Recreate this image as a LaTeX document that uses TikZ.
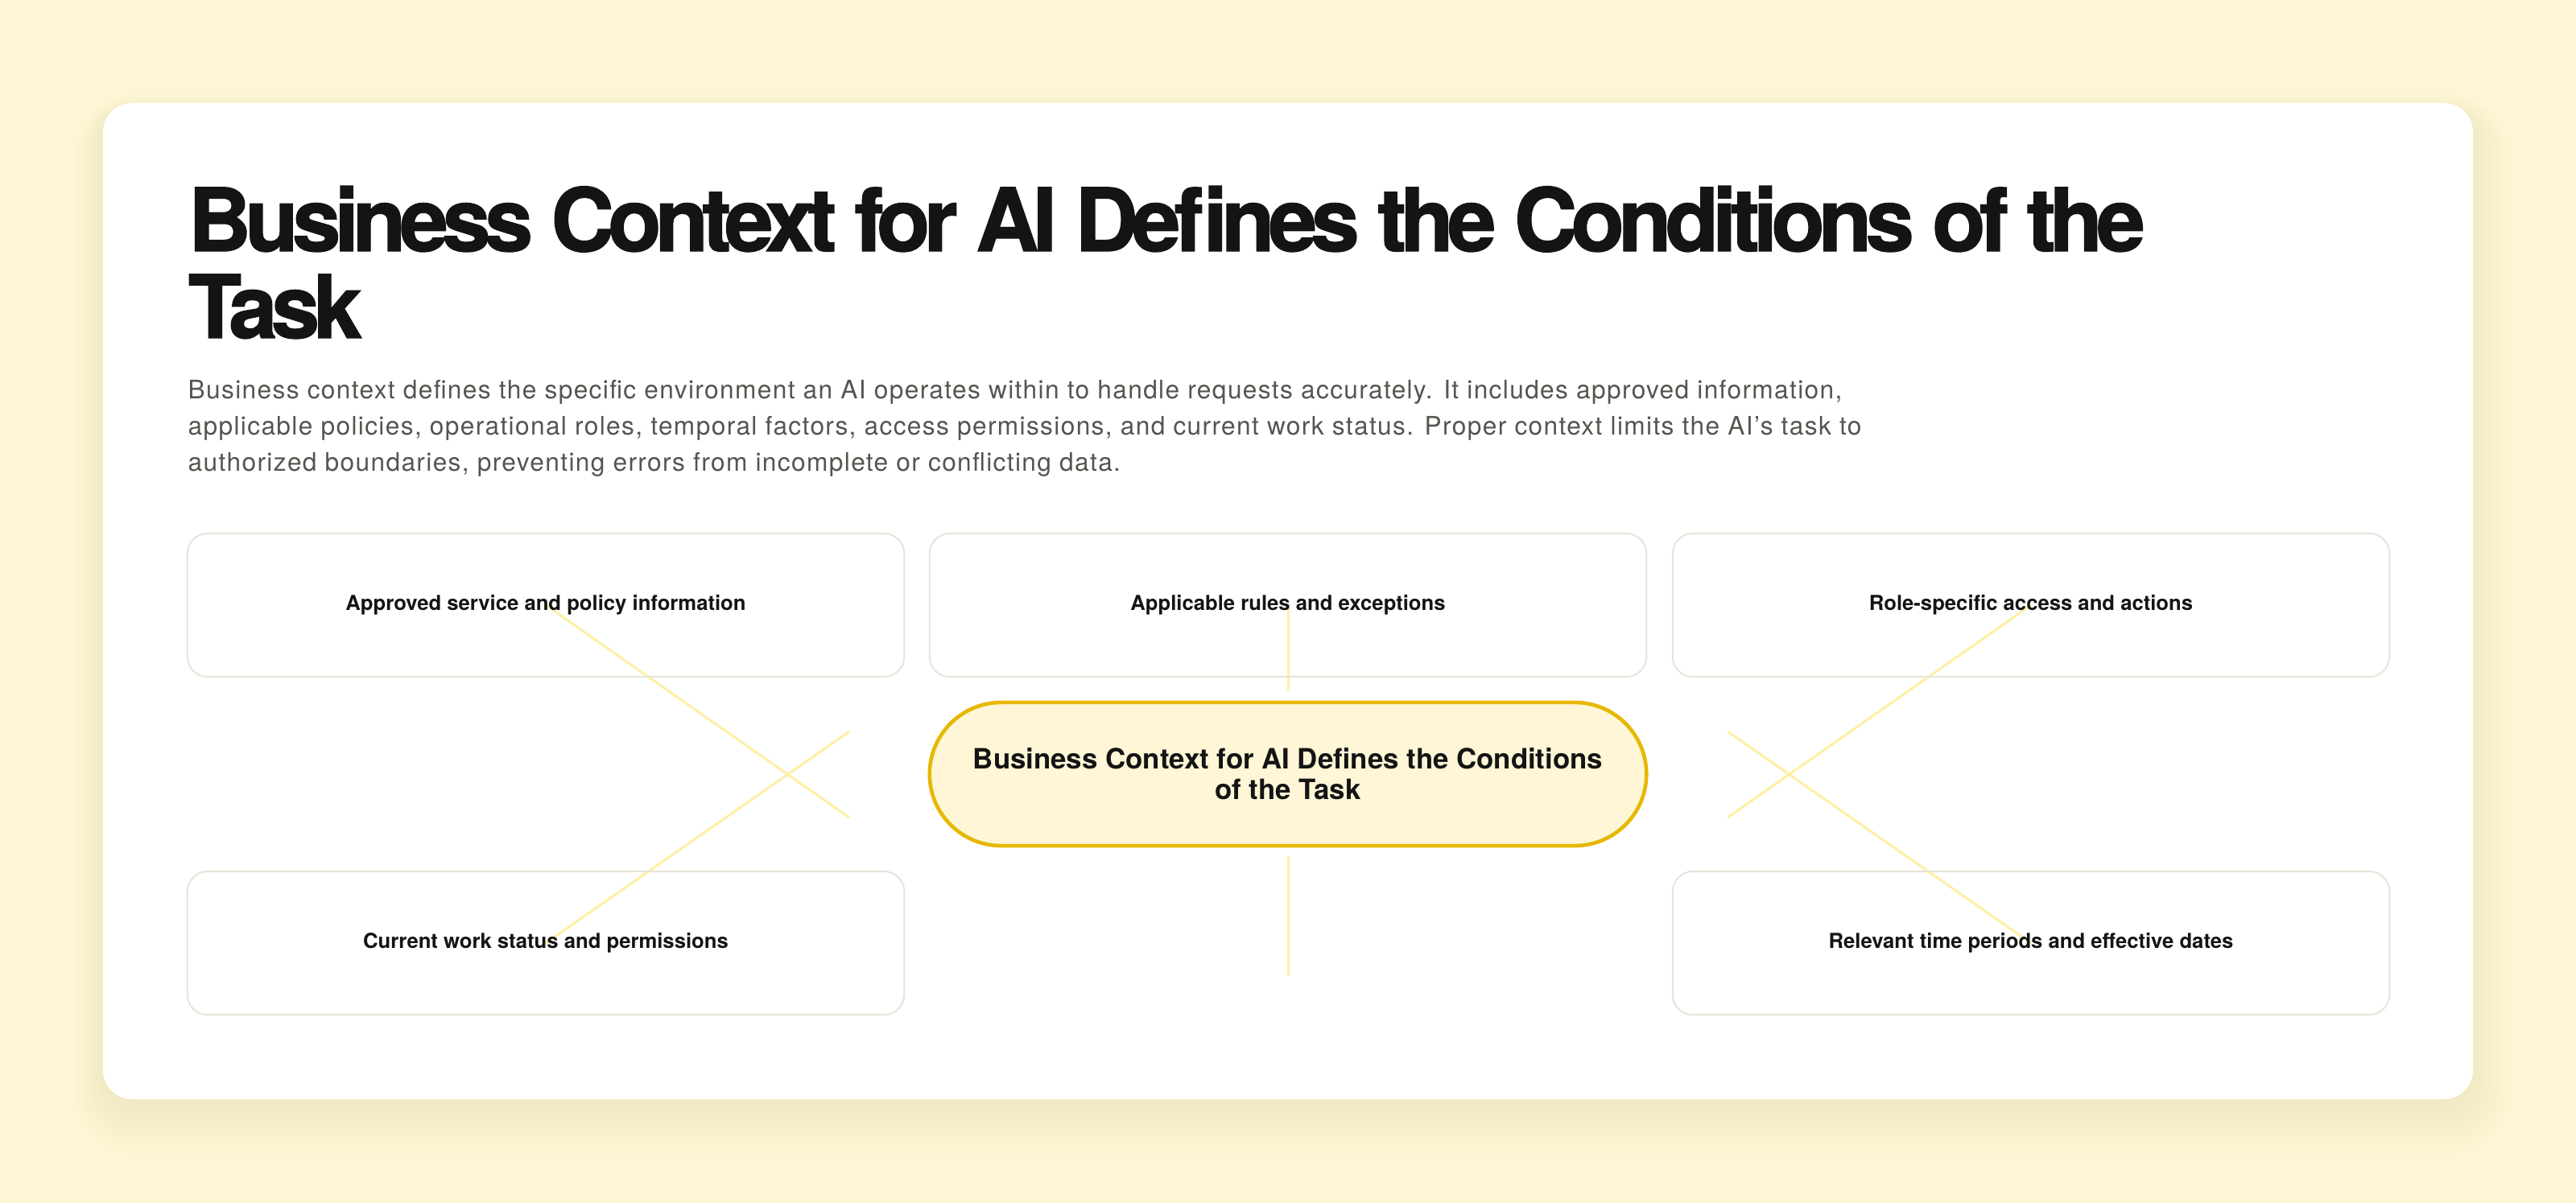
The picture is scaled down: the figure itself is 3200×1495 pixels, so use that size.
\documentclass[tikz,border=0pt]{standalone}
\usepackage{fontspec}
\setmainfont{TeX Gyre Heros}
\newfontfamily\headfont{TeX Gyre Heros}[LetterSpace=-7.2,FakeBold=1.2]
\newfontfamily\introfont{TeX Gyre Heros}[LetterSpace=4.3]
\usetikzlibrary{calc}

\definecolor{pagebg}{RGB}{253,246,214}
\definecolor{shadowcol}{RGB}{214,190,120}
\definecolor{ink}{RGB}{20,20,20}
\definecolor{body}{RGB}{85,85,80}
\definecolor{boxline}{RGB}{232,228,216}
\definecolor{linkcol}{RGB}{254,240,165}
\definecolor{hubline}{RGB}{230,184,0}
\definecolor{hubfill}{RGB}{254,246,214}

\pgfdeclarelayer{background}
\pgfsetlayers{background,main}

\tikzset{
  item/.style={draw=boxline, line width=0.57pt, rounded corners=0.25cm,
    minimum width=8.9cm, minimum height=1.78cm, inner sep=0pt,
    font=\fontsize{7.3pt}{9pt}\selectfont\bfseries, text=ink},
  hub/.style={draw=hubline, fill=hubfill, line width=1.3pt, rounded corners=0.89cm,
    minimum width=8.9cm, minimum height=1.78cm, inner sep=0pt, align=center,
    font=\fontsize{9.9pt}{10.8pt}\selectfont\bfseries, text=ink},
  link/.style={draw=linkcol, line width=0.85pt},
}

\begin{document}
\begin{tikzpicture}[x=0.01cm,y=-0.01cm]
  \useasboundingbox (0,0) rectangle (3200,1495);

  %% Page and card
  \begin{pgfonlayer}{background}
    \fill[pagebg] (0,0) rectangle (3200,1495);
    \foreach \s in {1,...,12}
    {
      \fill[shadowcol, opacity=0.012, rounded corners={(36+4*\s)*0.01cm}]
        ({128-3*\s},{140-2*\s}) rectangle ({3072+4*\s},{1376+5*\s});
    }
    \fill[white, rounded corners=0.36cm] (128,128) rectangle (3072,1366);
  \end{pgfonlayer}

  %% Heading and intro text (base = last line)
  \node[anchor=base west, align=left, inner sep=0pt, text=ink,
        font=\headfont\bfseries\fontsize{30.9pt}{30.7pt}\selectfont] (TITLE) at (233,420)
    {Business Context for AI Defines the Conditions of the\\Task};
  \node[anchor=base west, align=left, inner sep=0pt, text=body,
        font=\introfont\fontsize{9pt}{12.8pt}\selectfont] (INTRO) at (233,586)
    {Business context defines the specific environment an AI operates within to handle requests accurately. It includes approved information,\\
     applicable policies, operational roles, temporal factors, access permissions, and current work status. Proper context limits the AI’s task to\\
     authorized boundaries, preventing errors from incomplete or conflicting data.};

  %% Context boxes
  \foreach \n/\x/\y/\t in {APPROVED/678/752/Approved service and policy information,
                           RULES/1600/752/Applicable rules and exceptions,
                           ROLE/2523/752/Role-specific access and actions,
                           STATUS/678/1172/Current work status and permissions,
                           DATES/2523/1172/Relevant time periods and effective dates}
  {
    \node[item] (\n) at (\x,\y) {\t};
  }

  %% Central statement
  \node[hub] (HUB) at (1600,962) {Business Context for AI Defines the Conditions\\of the Task};

  %% Loose ends of the links near the hub
  \coordinate (HW1) at (1055,909);
  \coordinate (HW2) at (1055,1016);
  \coordinate (HE1) at (2146,909);
  \coordinate (HE2) at (2146,1016);
  \coordinate (HN)  at (1600,859);
  \coordinate (HS)  at (1600,1064);
  \coordinate (HSS) at (1600,1213);

  \begin{pgfonlayer}{background}
    \foreach \a/\b in {APPROVED/HW2, STATUS/HW1, ROLE/HE2, DATES/HE1, RULES/HN}
    {
      \draw[link] (\a.center) -- (\b);
    }
    \draw[link] (HS) -- (HSS);
  \end{pgfonlayer}
\end{tikzpicture}
\end{document}
